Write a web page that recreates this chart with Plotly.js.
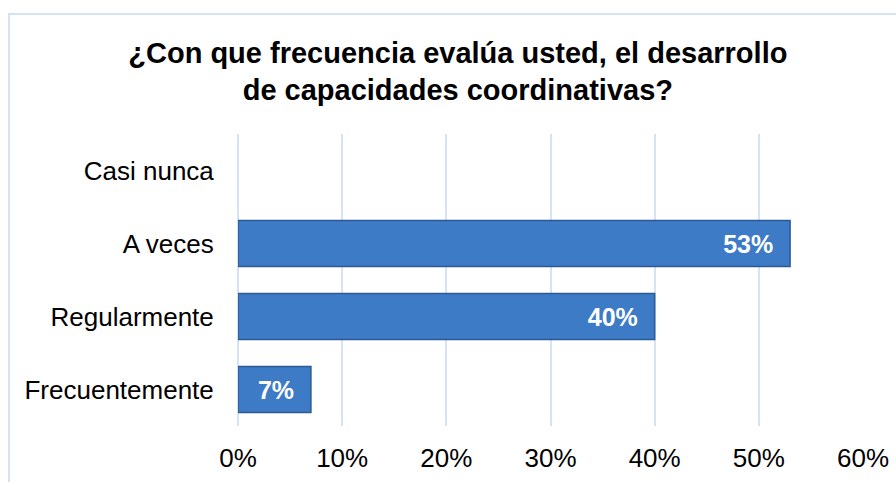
<!DOCTYPE html>
<html>
<head>
<meta charset="utf-8">
<script src="https://cdn.plot.ly/plotly-3.0.1.min.js"></script>
<style>
  html, body { margin: 0; padding: 0; background: #ffffff; }
  #wrap { position: relative; width: 896px; height: 482px; overflow: hidden; }
  #chart { width: 896px; height: 482px; }
  #frame { position: absolute; left: 8px; top: 13px; right: -10px; bottom: -10px;
           border-left: 2px solid #D5E2F3; border-top: 2px solid #D5E2F3; pointer-events: none; }
</style>
</head>
<body>
<div id="wrap">
  <div id="chart"></div>
  <div id="frame"></div>
</div>
<script>
// Data
const categories = ["Frecuentemente", "Regularmente", "A veces", "Casi nunca"];
const shares = [0.07, 0.40, 0.53, 0.00];
const xTickValues = [0, 0.1, 0.2, 0.3, 0.4, 0.5, 0.6];
const xTickLabels = ["0%", "10%", "20%", "30%", "40%", "50%", "60%"];
const chartTitle = "¿Con que frecuencia evalúa usted, el desarrollo<br>de capacidades coordinativas?";

const pad = '<span style="color:rgba(0,0,0,0)">0</span>';
const labels = shares.map(v => v > 0 ? Math.round(v * 100) + '%' + pad : '');
const outlineWidths = shares.map(v => v > 0 ? 1.5 : 0);

const font = '"Liberation Sans", Arial, sans-serif';

const trace = {
  type: 'bar',
  orientation: 'h',
  y: categories,
  x: shares,
  text: labels,
  textposition: 'inside',
  insidetextanchor: 'end',
  textfont: { family: font, size: 25, color: '#ffffff', weight: 'bold' },
  marker: { color: '#3D7BC7', line: { color: '#2C5A92', width: outlineWidths } },
  width: 0.63,
  hoverinfo: 'skip',
  cliponaxis: false
};

const layout = {
  width: 896,
  height: 482,
  margin: { l: 238, r: 33, t: 134, b: 56 },
  paper_bgcolor: '#ffffff',
  plot_bgcolor: '#ffffff',
  showlegend: false,
  font: { family: font, color: '#000000' },
  title: {
    text: '<b>' + chartTitle + '</b>',
    font: { family: font, size: 29, color: '#000000' },
    xref: 'container', x: 0.511, xanchor: 'center',
    yref: 'container', y: 0.87, yanchor: 'top'
  },
  xaxis: {
    range: [0, 0.6],
    tickvals: xTickValues,
    ticktext: xTickLabels,
    showgrid: true,
    gridcolor: '#D6E3F3',
    gridwidth: 2,
    zeroline: true,
    zerolinecolor: '#D6E3F3',
    zerolinewidth: 2,
    showline: false,
    ticks: 'outside',
    ticklen: 9,
    tickcolor: 'rgba(0,0,0,0)',
    tickfont: { family: font, size: 26, color: '#000000' },
    fixedrange: true
  },
  yaxis: {
    type: 'category',
    categoryorder: 'array',
    categoryarray: categories,
    showgrid: false,
    zeroline: false,
    showline: false,
    ticks: 'outside',
    ticklen: 18,
    tickcolor: 'rgba(0,0,0,0)',
    tickfont: { family: font, size: 26, color: '#000000' },
    fixedrange: true
  }
};

Plotly.newPlot('chart', [trace], layout, { displayModeBar: false, staticPlot: true });
</script>
</body>
</html>
